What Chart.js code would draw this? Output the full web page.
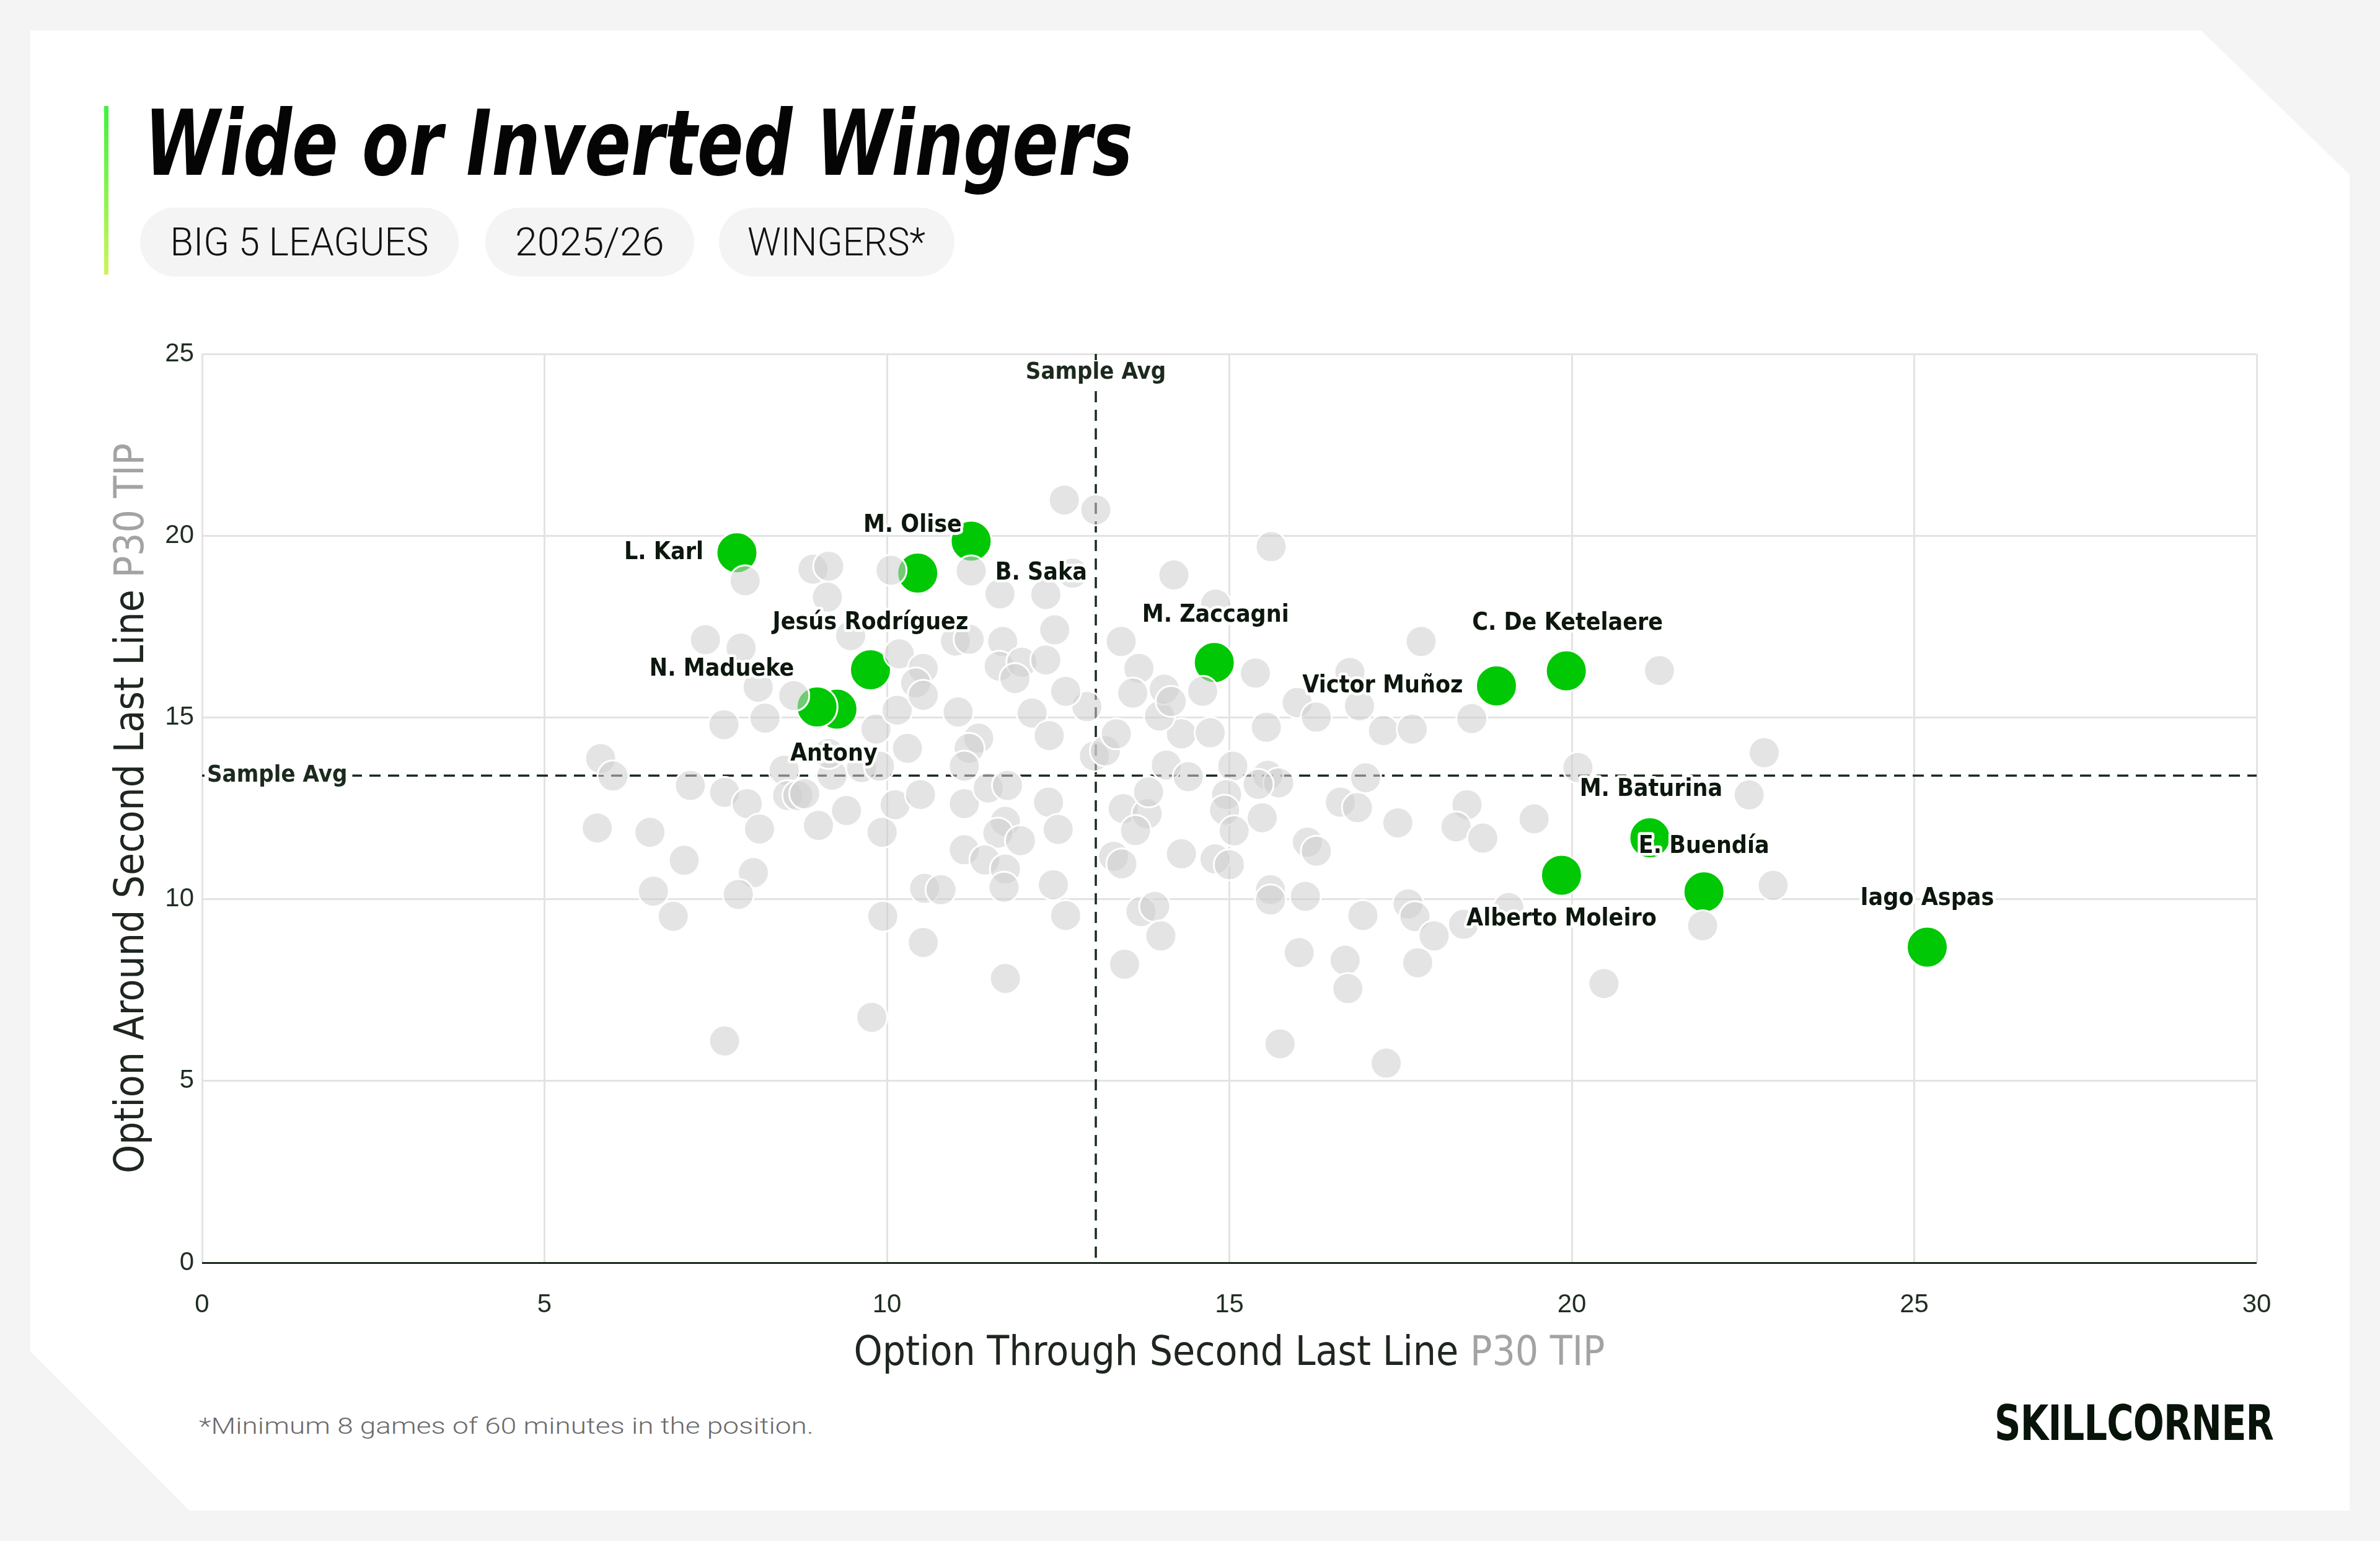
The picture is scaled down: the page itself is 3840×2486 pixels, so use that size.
<!DOCTYPE html>
<html>
<head>
<meta charset="utf-8">
<script src="https://cdn.jsdelivr.net/npm/chart.js@4.4.1/dist/chart.umd.min.js"></script>
<style>
html,body{margin:0;padding:0;width:3840px;height:2486px;background:#f4f4f4;overflow:hidden}
#card{position:absolute;left:49px;top:49px;width:3742px;height:2388px;background:#fff;
  clip-path:polygon(0 0,3502px 0,3742px 233px,3742px 2388px,257px 2388px,0 2131px)}
#accent{position:absolute;left:168px;top:171px;width:7px;height:272px;background:linear-gradient(#3df23d,#cdf55c)}
.t{position:absolute;white-space:nowrap;line-height:1;transform-origin:0 50%}
#title{left:233px;top:158px;font-family:'Liberation Sans Narrow','DejaVu Sans Condensed',Arial,sans-serif;font-weight:700;font-style:italic;font-size:147px;color:#050505}
.pill{position:absolute;top:335px;height:111px;border-radius:56px;background:#f4f4f4;display:flex;align-items:center;justify-content:center}
.pill span{display:inline-block;white-space:nowrap;line-height:1;font-family:Roboto,'Liberation Sans',sans-serif;font-weight:300;font-size:63px;color:#111;transform-origin:50% 50%}
#foot{left:321px;top:2283px;font-family:Roboto,'Liberation Sans',sans-serif;font-weight:300;font-size:36px;color:#6b6b6b}
#logo{left:3218px;top:2257px;font-family:'DejaVu Sans',Arial,sans-serif;font-weight:700;font-size:78px;color:#08130a;letter-spacing:-1px}
#wrap{position:absolute;left:0;top:0;width:3840px;height:2486px}
</style>
</head>
<body>
<div id="card"></div>
<div id="accent"></div>
<div id="title" class="t">Wide or Inverted Wingers</div>
<div class="pill" style="left:226px;width:514px"><span data-w="417">BIG 5 LEAGUES</span></div>
<div class="pill" style="left:783px;width:337px"><span data-w="241">2025/26</span></div>
<div class="pill" style="left:1160px;width:380px"><span data-w="287">WINGERS*</span></div>
<div id="foot" class="t">*Minimum 8 games of 60 minutes in the position.</div>
<div id="logo" class="t">SKILLCORNER</div>
<div id="wrap"><canvas id="c"></canvas></div>
<script>
// ---------- DATA ----------
const xTicks = [0, 5, 10, 15, 20, 25, 30];
const yTicks = [0, 5, 10, 15, 20, 25];
const avgX = 13.05;
const avgY = 13.4;

const playerNames = ["L. Karl","M. Olise","B. Saka","Jesús Rodríguez","Antony","N. Madueke","M. Zaccagni","Victor Muñoz","C. De Ketelaere","M. Baturina","E. Buendía","Alberto Moleiro","Iago Aspas"];
const playerX = [7.81,11.23,10.45,9.76,9.27,8.98,14.78,18.90,19.92,21.14,21.93,19.85,25.19];
const playerY = [19.53,19.85,18.97,16.31,15.23,15.29,16.51,15.87,16.28,11.69,10.20,10.66,8.68];

const otherX = [
  5.82,6.00,5.77,6.54,7.13,7.63,7.96,8.14,7.04,6.59,
  6.88,8.05,7.83,7.63,9.78,9.94,9.93,9.41,9.00,8.50,
  8.55,8.70,8.80,9.20,9.15,9.84,9.63,9.89,7.62,8.22,
  7.93,8.92,9.15,9.13,7.35,7.87,9.47,8.12,8.64,10.06,
  10.18,10.15,10.30,10.12,10.49,11.04,11.34,11.20,11.13,11.13,
  11.48,11.76,11.73,11.62,11.95,11.13,11.43,11.73,11.71,10.55,
  10.79,10.53,11.73,12.12,12.37,12.36,12.50,12.43,12.61,12.92,
  13.03,13.19,13.35,13.45,13.80,13.63,13.82,13.31,13.43,14.08,
  14.40,14.30,14.72,13.98,15.05,14.96,14.93,15.07,14.30,14.79,
  15.00,13.71,13.91,14.00,13.47,11.23,12.59,13.05,11.65,12.32,
  12.71,14.19,14.80,12.45,11.00,11.20,11.69,13.42,10.53,10.42,
  10.53,11.64,11.97,12.32,11.87,12.61,13.68,13.59,14.05,14.15,
  14.61,15.38,15.61,17.80,16.76,15.99,16.27,16.90,15.54,17.25,
  17.67,18.54,15.56,15.72,15.42,15.48,16.62,16.87,16.99,17.46,
  16.14,16.27,15.60,15.60,16.11,16.95,17.61,17.71,17.99,18.42,
  19.08,17.75,16.02,16.69,16.73,15.74,17.29,18.47,18.31,18.70,
  19.45,20.09,20.47,21.28,22.81,22.59,22.94,21.91
];
const otherY = [
  13.87,13.39,11.96,11.84,13.13,12.94,12.63,11.93,11.07,10.22,
  9.53,10.73,10.13,6.10,6.75,9.53,11.84,12.44,12.03,13.55,
  12.85,12.85,12.90,13.41,14.01,14.68,13.62,13.66,14.80,14.98,
  18.76,19.08,19.16,18.31,17.14,16.91,17.25,15.83,15.60,19.05,
  16.75,15.20,14.15,12.60,12.88,15.15,14.43,14.15,13.66,12.63,
  13.06,13.13,12.14,11.82,11.61,11.36,11.08,10.83,10.33,10.30,
  10.26,8.81,7.82,15.12,14.50,12.67,11.92,10.40,9.55,15.30,
  13.94,14.08,14.55,12.49,12.35,11.89,12.95,11.18,10.97,13.69,
  13.37,14.55,14.58,15.04,13.66,12.88,12.45,11.88,11.25,11.11,
  10.95,9.66,9.80,8.99,8.21,19.03,20.98,20.71,18.40,18.38,
  18.97,18.92,18.12,17.41,17.10,17.15,17.09,17.09,16.35,15.95,
  15.61,16.41,16.52,16.58,16.07,15.72,16.35,15.67,15.78,15.44,
  15.72,16.22,19.70,17.09,16.24,15.41,15.01,15.32,14.73,14.64,
  14.68,14.97,13.41,13.20,13.16,12.24,12.67,12.52,13.34,12.10,
  11.57,11.32,10.26,9.98,10.08,9.55,9.87,9.52,8.99,9.31,
  9.77,8.25,8.53,8.32,7.54,6.02,5.49,12.60,11.99,11.68,
  12.21,13.62,7.68,16.29,14.03,12.87,10.38,9.27
];

const xTitle = ["Option Through Second Last Line ", "P30 TIP"];
const yTitle = ["Option Around Second Last Line ", "P30 TIP"];
const avgLabel = "Sample Avg";

// ---------- STYLE (label placement, px offsets from the point) ----------
const labelPlace = {
  "L. Karl":        {align:"right",  dx:-54, dy:0},
  "M. Olise":       {align:"right",  dx:-15, dy:-25},
  "B. Saka":        {align:"left",   dx:125, dy:0},
  "Jesús Rodríguez":{align:"center", dx:0,   dy:-76},
  "Antony":         {align:"center", dx:-5,  dy:73},
  "N. Madueke":     {align:"right",  dx:-37, dy:-61},
  "M. Zaccagni":    {align:"center", dx:2,   dy:-76},
  "Victor Muñoz":   {align:"right",  dx:-54, dy:0},
  "C. De Ketelaere":{align:"center", dx:2,   dy:-76},
  "M. Baturina":    {align:"center", dx:2,   dy:-78},
  "E. Buendía":     {align:"center", dx:0,   dy:-73},
  "Alberto Moleiro":{align:"center", dx:0,   dy:71},
  "Iago Aspas":     {align:"center", dx:0,   dy:-78}
};
const COND = "'Liberation Sans Narrow','DejaVu Sans Condensed',Arial,sans-serif";
const TICKF = "'Liberation Sans',Arial,sans-serif";
const DARK = '#1b2a1d';

function fitHTML(){
  const fit = (el, w) => { el.style.transform = 'scaleX(' + (w / el.scrollWidth) + ')'; };
  fit(document.getElementById('title'), 1595);
  fit(document.getElementById('foot'), 992);
  fit(document.getElementById('logo'), 450);
  document.querySelectorAll('.pill span').forEach(s => fit(s, +s.dataset.w));
}

function drawTwoTone(ctx, parts, colors, cx, cy, rot, targetW){
  ctx.save();
  ctx.font = '400 66px ' + COND;
  const w0 = ctx.measureText(parts[0]).width, w1 = ctx.measureText(parts[1]).width;
  const total = w0 + w1, k = targetW / total;
  ctx.translate(cx, cy);
  ctx.rotate(rot);
  ctx.scale(k, 1);
  ctx.textBaseline = 'middle';
  ctx.textAlign = 'left';
  ctx.fillStyle = colors[0];
  ctx.fillText(parts[0], -total/2, 0);
  ctx.fillStyle = colors[1];
  ctx.fillText(parts[1], -total/2 + w0, 0);
  ctx.restore();
}

const decor = {
  id: 'decor',
  beforeDatasetsDraw(chart){
    const {ctx, chartArea:a, scales:{x, y}} = chart;
    const px = x.getPixelForValue(avgX), py = y.getPixelForValue(avgY);
    ctx.save();
    ctx.strokeStyle = DARK; ctx.lineWidth = 3.5; ctx.setLineDash([18, 12]);
    ctx.beginPath(); ctx.moveTo(px, a.top); ctx.lineTo(px, a.bottom); ctx.stroke();
    ctx.beginPath(); ctx.moveTo(a.left, py); ctx.lineTo(a.right, py); ctx.stroke();
    ctx.restore();
  },
  afterDatasetsDraw(chart){
    const {ctx, chartArea:a, scales:{x, y}} = chart;
    const px = x.getPixelForValue(avgX), py = y.getPixelForValue(avgY);
    ctx.save();
    // Sample Avg labels
    ctx.font = '700 38px ' + COND;
    ctx.textBaseline = 'middle';
    const sw = ctx.measureText(avgLabel).width;
    ctx.fillStyle = '#fff';
    ctx.fillRect(px - sw/2 - 6, a.top + 10, sw + 12, 40);
    ctx.fillRect(a.left + 4, py - 20, sw + 12, 40);
    ctx.fillStyle = DARK;
    ctx.textAlign = 'center';
    ctx.fillText(avgLabel, px, a.top + 30);
    ctx.textAlign = 'left';
    ctx.fillText(avgLabel, a.left + 8, py);
    // player labels
    const meta = chart.getDatasetMeta(1);
    ctx.font = '700 39px ' + COND;
    ctx.lineJoin = 'round';
    meta.data.forEach((pt, i) => {
      const name = playerNames[i];
      const p = labelPlace[name];
      const tx = pt.x + p.dx, ty = pt.y + p.dy;
      ctx.textAlign = p.align;
      ctx.strokeStyle = '#fff'; ctx.lineWidth = 9;
      ctx.strokeText(name, tx, ty);
      ctx.fillStyle = '#0c170d';
      ctx.fillText(name, tx, ty);
    });
    ctx.restore();
  },
  afterDraw(chart){
    const {ctx, chartArea:a} = chart;
    drawTwoTone(ctx, xTitle, ['#1e261f', '#a3a3a3'], (a.left + a.right)/2, 2185, 0, 1212);
    drawTwoTone(ctx, yTitle, ['#1e261f', '#a3a3a3'], 214, (a.top + a.bottom)/2, -Math.PI/2, 1178);
  }
};

const otherData = otherX.map((v, i) => ({x: v, y: otherY[i]}));
const playerData = playerX.map((v, i) => ({x: v, y: playerY[i]}));

function build(){
  fitHTML();
  new Chart(document.getElementById('c'), {
    type: 'scatter',
    data: {
      datasets: [
        {label: 'Wingers', data: otherData, pointRadius: 25, pointBackgroundColor: 'rgba(205,205,205,0.55)',
         pointBorderColor: '#ffffff', pointBorderWidth: 3},
        {label: 'Highlighted', data: playerData, pointRadius: 33, pointBackgroundColor: '#00c805',
         pointBorderColor: '#ffffff', pointBorderWidth: 3}
      ]
    },
    options: {
      responsive: true, maintainAspectRatio: false, animation: false, devicePixelRatio: 1,
      layout: {padding: {top: 571, right: 199, bottom: 0, left: 0}},
      plugins: {legend: {display: false}, tooltip: {enabled: false}},
      scales: {
        x: {
          type: 'linear', min: 0, max: 30,
          afterBuildTicks: s => { s.ticks = xTicks.map(v => ({value: v})); },
          afterFit: s => { s.height = 449; },
          border: {display: false},
          grid: {color: '#e3e3e3', lineWidth: 3, drawTicks: false},
          ticks: {padding: 43, color: '#1f2e22', font: {family: TICKF, size: 42}}
        },
        y: {
          type: 'linear', min: 0, max: 25,
          afterBuildTicks: s => { s.ticks = yTicks.map(v => ({value: v})); },
          afterFit: s => { s.width = 326; },
          border: {display: false},
          grid: {color: c => c.tick && c.tick.value === 0 ? DARK : '#e3e3e3', lineWidth: 3, drawTicks: false},
          ticks: {padding: 13, color: '#1f2e22', font: {family: TICKF, size: 42}}
        }
      }
    },
    plugins: [decor]
  });
}
if (document.fonts && document.fonts.ready) { document.fonts.ready.then(build); } else { build(); }
</script>
</body>
</html>
